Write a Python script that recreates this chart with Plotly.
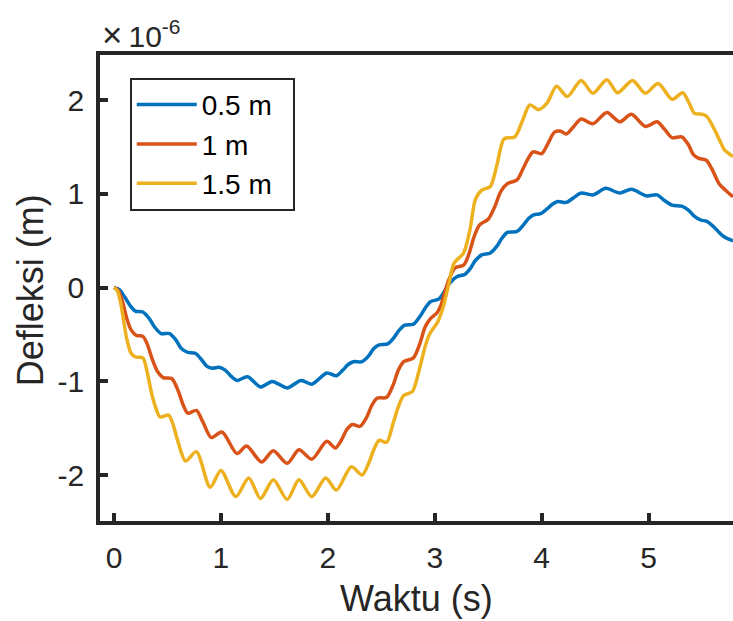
import plotly.graph_objects as go

# Deflection time histories at three positions (values in units of 1e-6 m)
t_05 = [0.0, 0.05, 0.1, 0.15, 0.2, 0.27, 0.33, 0.38, 0.44, 0.52, 0.58, 0.63, 0.69, 0.76,
        0.82, 0.87, 0.92, 0.98, 1.04, 1.10, 1.15, 1.25, 1.37, 1.48, 1.62, 1.75, 1.85, 1.99,
        2.08, 2.14, 2.19, 2.24, 2.32, 2.38, 2.43, 2.48, 2.56, 2.62, 2.67, 2.72, 2.80, 2.86,
        2.91, 2.96, 3.04, 3.09, 3.14, 3.21, 3.28, 3.33, 3.38, 3.44, 3.52, 3.58, 3.63, 3.68,
        3.77, 3.83, 3.88, 3.93, 3.99, 4.05, 4.10, 4.15, 4.23, 4.30, 4.37, 4.48, 4.60, 4.73,
        4.84, 4.98, 5.08, 5.15, 5.22, 5.31, 5.37, 5.43, 5.49, 5.54, 5.60, 5.66, 5.71, 5.79]
d_05 = [0.0, -0.02, -0.10, -0.19, -0.25, -0.26, -0.33, -0.42, -0.49, -0.49, -0.56, -0.65,
        -0.69, -0.70, -0.77, -0.84, -0.86, -0.85, -0.88, -0.95, -0.99, -0.95, -1.06, -1.0,
        -1.07, -0.99, -1.03, -0.91, -0.94, -0.88, -0.82, -0.79, -0.79, -0.73, -0.65, -0.61,
        -0.60, -0.53, -0.45, -0.40, -0.39, -0.31, -0.22, -0.15, -0.12, -0.04, 0.05, 0.12,
        0.14, 0.20, 0.29, 0.35, 0.37, 0.44, 0.53, 0.59, 0.60, 0.67, 0.74, 0.78, 0.79, 0.84,
        0.89, 0.92, 0.91, 0.96, 1.01, 0.99, 1.06, 1.01, 1.05, 0.98, 0.99, 0.93, 0.88, 0.87,
        0.83, 0.76, 0.72, 0.71, 0.66, 0.59, 0.54, 0.50]

t_1 = [0.0, 0.04, 0.08, 0.12, 0.16, 0.21, 0.27, 0.31, 0.36, 0.41, 0.46, 0.54, 0.60, 0.65,
       0.69, 0.77, 0.83, 0.91, 1.01, 1.15, 1.24, 1.38, 1.49, 1.62, 1.73, 1.85, 1.99, 2.07,
       2.13, 2.18, 2.23, 2.30, 2.36, 2.41, 2.46, 2.55, 2.61, 2.66, 2.71, 2.80, 2.86, 2.91,
       2.96, 3.02, 3.06, 3.13, 3.19, 3.27, 3.32, 3.37, 3.42, 3.50, 3.56, 3.62, 3.68, 3.77,
       3.83, 3.88, 3.92, 4.00, 4.06, 4.12, 4.18, 4.23, 4.30, 4.37, 4.48, 4.61, 4.73, 4.84,
       4.97, 5.08, 5.15, 5.22, 5.31, 5.37, 5.42, 5.47, 5.54, 5.60, 5.66, 5.72, 5.79]
d_1 = [0.0, -0.03, -0.15, -0.33, -0.45, -0.51, -0.52, -0.60, -0.77, -0.90, -0.96, -0.97,
       -1.10, -1.26, -1.34, -1.31, -1.43, -1.60, -1.54, -1.77, -1.69, -1.86, -1.74, -1.875,
       -1.73, -1.83, -1.64, -1.71, -1.62, -1.51, -1.46, -1.48, -1.39, -1.26, -1.18, -1.17,
       -1.04, -0.88, -0.79, -0.75, -0.60, -0.42, -0.33, -0.27, -0.18, 0.08, 0.21, 0.24,
       0.36, 0.55, 0.67, 0.73, 0.86, 1.03, 1.11, 1.15, 1.28, 1.39, 1.45, 1.43, 1.54, 1.66,
       1.67, 1.64, 1.72, 1.80, 1.75, 1.87, 1.77, 1.85, 1.72, 1.77, 1.69, 1.60, 1.61, 1.53,
       1.42, 1.38, 1.36, 1.25, 1.11, 1.04, 0.97]

t_15 = [0.0, 0.03, 0.06, 0.09, 0.12, 0.16, 0.20, 0.27, 0.31, 0.35, 0.39, 0.43, 0.51, 0.55,
        0.60, 0.67, 0.77, 0.90, 1.00, 1.14, 1.26, 1.37, 1.49, 1.62, 1.73, 1.85, 1.98, 2.08,
        2.22, 2.32, 2.38, 2.43, 2.48, 2.55, 2.61, 2.66, 2.71, 2.79, 2.85, 2.91, 2.95, 3.03,
        3.08, 3.13, 3.18, 3.27, 3.33, 3.38, 3.44, 3.52, 3.58, 3.65, 3.75, 3.82, 3.89, 3.97,
        4.05, 4.14, 4.24, 4.37, 4.48, 4.61, 4.71, 4.85, 4.97, 5.09, 5.22, 5.32, 5.38, 5.43,
        5.51, 5.55, 5.62, 5.67, 5.71, 5.79]
d_15 = [0.0, -0.03, -0.15, -0.35, -0.55, -0.70, -0.74, -0.75, -0.90, -1.12, -1.28, -1.38,
        -1.36, -1.45, -1.65, -1.85, -1.75, -2.13, -1.95, -2.23, -2.03, -2.25, -2.05, -2.26,
        -2.05, -2.23, -2.03, -2.16, -1.91, -2.0, -1.88, -1.73, -1.63, -1.65, -1.45, -1.27,
        -1.15, -1.11, -0.90, -0.63, -0.50, -0.36, -0.20, 0.03, 0.26, 0.37, 0.62, 0.94, 1.04,
        1.08, 1.30, 1.59, 1.61, 1.78, 1.95, 1.90, 1.97, 2.15, 2.04, 2.21, 2.075, 2.22, 2.08,
        2.21, 2.075, 2.18, 2.01, 2.08, 1.97, 1.86, 1.85, 1.82, 1.68, 1.56, 1.47, 1.40]

series = [("0.5 m", t_05, d_05, "#0072BD"),
          ("1 m", t_1, d_1, "#D95319"),
          ("1.5 m", t_15, d_15, "#EDB120")]

x_ticks = [0, 1, 2, 3, 4, 5]
y_ticks = [-2, -1, 0, 1, 2]
y_tick_text = ["-2", "-1", "0", "1", "2"]

FONT = "Liberation Sans, Arial, sans-serif"
INK = "#262626"

fig = go.Figure()
for name, t, d, color in series:
    # non-breaking padding widens the legend box a little
    fig.add_trace(go.Scatter(x=t, y=d, name=name + "\u00a0\u00a0", mode="lines",
                             line=dict(color=color, width=3.5, shape="spline", smoothing=0.8)))

axis_common = dict(showline=True, linewidth=3.5, linecolor=INK, ticks="inside",
                   ticklen=8, tickwidth=3.5, tickcolor=INK, showgrid=False, zeroline=False,
                   tickfont=dict(family=FONT, size=30, color=INK))

fig.update_layout(
    width=733, height=621,
    margin=dict(l=100, r=0, t=55, b=100),
    paper_bgcolor="white", plot_bgcolor="white",
    font=dict(family=FONT, color=INK),
    xaxis=dict(range=[-0.131, 5.79], tickvals=x_ticks, mirror=True,
               ticklabelstandoff=7, **axis_common),
    yaxis=dict(range=[-2.49, 2.483], tickvals=y_ticks, ticktext=y_tick_text,
               ticklabelstandoff=6, **axis_common),
    legend=dict(x=0.047, y=0.951, xanchor="left", yanchor="top",
                bgcolor="white", bordercolor=INK, borderwidth=2,
                font=dict(family=FONT, size=28, color="black"),
                itemwidth=60, tracegroupgap=0),
    showlegend=True,
)

fig.add_annotation(text="Waktu (s)", xref="paper", yref="paper", x=0.5, y=0,
                   xanchor="center", yanchor="top", yshift=-55, showarrow=False,
                   font=dict(family=FONT, size=36, color=INK))
fig.add_annotation(text="Defleksi (m)", xref="paper", yref="paper", x=0, y=0.494,
                   xanchor="right", yanchor="middle", xshift=-47, textangle=-90,
                   showarrow=False, font=dict(family=FONT, size=36, color=INK))
fig.add_annotation(text="<span style='font-size:35px'>×</span>\u200910<sup>-6</sup>",
                   xref="paper", yref="paper", x=0, y=1,
                   xanchor="left", yanchor="bottom", xshift=0, yshift=-1,
                   showarrow=False, font=dict(family=FONT, size=30, color=INK))

fig.write_html("out.html")
